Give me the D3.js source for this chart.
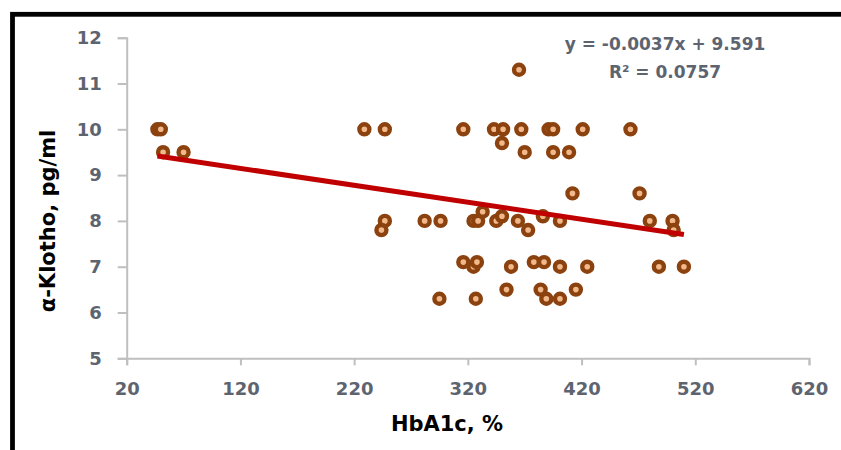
<!DOCTYPE html>
<html>
<head>
<meta charset="utf-8">
<script src="https://cdn.jsdelivr.net/npm/d3@7"></script>
<style>
    body { margin: 0; background: #fff; }
    text { font-family: "DejaVu Sans", sans-serif; font-weight: bold; }
</style>
</head>
<body>
<div id="chart"></div>
<script>
// data
var hba1c  = [47, 50, 52, 70, 229, 247, 247, 244, 282, 296, 295, 316, 316, 325, 329, 333, 325, 328, 327,
              343, 351, 350, 345, 350, 354, 358, 364, 365, 367, 370, 373, 378, 384, 386, 387, 389,
              391, 395, 395, 401, 401, 401, 409, 412, 415, 421, 425, 463, 471, 480, 488, 500, 501, 510];
var klotho = [10, 10, 9.5, 9.5, 10, 10, 8, 7.8, 8, 8, 6.3, 10, 7.1, 8, 8, 8.2, 7.0, 7.1, 6.3,
              10, 10, 9.7, 8, 8.1, 6.5, 7.0, 8, 11.3, 10, 9.5, 7.8, 7.1, 6.5, 8.1, 7.1, 6.3,
              10, 10, 9.5, 8, 7.0, 6.3, 9.5, 8.6, 6.5, 10, 7.0, 10, 8.6, 8, 7.0, 8, 7.8, 7.0];
var xTicks = [20, 120, 220, 320, 420, 520, 620];
var yTicks = [5, 6, 7, 8, 9, 10, 11, 12];
var slope = -0.0037, intercept = 9.591;
var eqLabel = "y = -0.0037x + 9.591";
var r2Label = "R² = 0.0757";

var W = 841, H = 450;
var margin = {top: 37.7, right: 32, bottom: 91.7, left: 126.7},
    width = W - margin.left - margin.right,
    height = H - margin.top - margin.bottom;

var root = d3.select("#chart")
    .append("svg")
    .attr("width", W)
    .attr("height", H);

// black frame (right and bottom fall outside the view)
root.append("rect")
    .attr("x", 12.5).attr("y", 14.3)
    .attr("width", 900).attr("height", 500)
    .attr("fill", "none")
    .attr("stroke", "#000")
    .attr("stroke-width", 4.8);

var svg = root.append("g")
    .attr("transform", `translate(${margin.left}, ${margin.top})`);

var x = d3.scaleLinear().domain([20, 620]).range([0, width]);
var y = d3.scaleLinear().domain([5, 12]).range([height, 0]);

var tickColor = "#5d6470";

var gx = svg.append("g")
    .attr("transform", `translate(0, ${height})`)
    .call(d3.axisBottom(x).tickValues(xTicks).tickFormat(d3.format("d"))
        .tickSizeOuter(0).tickSize(7).tickPadding(17));
var gy = svg.append("g")
    .call(d3.axisLeft(y).tickValues(yTicks).tickFormat(d3.format("d"))
        .tickSizeOuter(0).tickSize(9).tickPadding(16));

[gx, gy].forEach(function (g) {
    g.select(".domain").attr("stroke", "#bfbfbf").attr("stroke-width", 2);
    g.selectAll(".tick line").attr("stroke", "#bfbfbf").attr("stroke-width", 2);
    g.selectAll(".tick text")
        .attr("fill", tickColor)
        .style("font-size", "18px")
        .style("font-family", "DejaVu Sans")
        .style("font-weight", "bold");
});

// points
svg.selectAll("circle.pt")
    .data(hba1c)
    .enter()
    .append("circle")
    .attr("class", "pt")
    .attr("cx", function (d) { return x(d); })
    .attr("cy", function (d, i) { return y(klotho[i]); })
    .attr("r", 5)
    .attr("fill", "#f2b88a")
    .attr("stroke", "#8b420f")
    .attr("stroke-width", 4.4);

// linear trendline
var xr = d3.extent(hba1c);
svg.append("path")
    .datum(xr)
    .attr("fill", "none")
    .attr("stroke", "#c00000")
    .attr("stroke-width", 5)
    .attr("d", d3.line()
        .x(function (d) { return x(d); })
        .y(function (d) { return y(slope * d + intercept); })
    );

// equation
root.append("text")
    .attr("x", 665).attr("y", 50)
    .attr("text-anchor", "middle")
    .attr("fill", tickColor)
    .style("font-size", "17px")
    .text(eqLabel);
root.append("text")
    .attr("x", 665).attr("y", 78)
    .attr("text-anchor", "middle")
    .attr("fill", tickColor)
    .style("font-size", "17px")
    .text(r2Label);

// axis titles
root.append("text")
    .attr("x", 447).attr("y", 431)
    .attr("text-anchor", "middle")
    .attr("fill", "#000")
    .style("font-size", "21px")
    .text("HbA1c, %");
root.append("text")
    .attr("transform", "translate(55, 221) rotate(-90)")
    .attr("text-anchor", "middle")
    .attr("fill", "#000")
    .style("font-size", "21px")
    .text("α-Klotho, pg/ml");
</script>
</body>
</html>
